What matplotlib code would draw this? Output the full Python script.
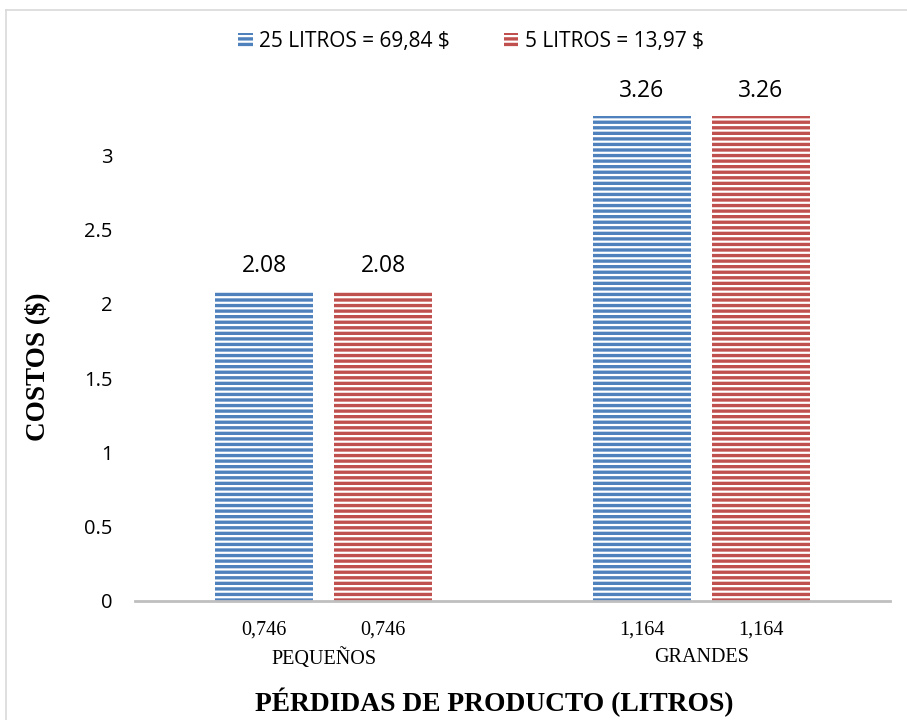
import matplotlib
matplotlib.use("Agg")
import matplotlib.pyplot as plt
from matplotlib.lines import Line2D
import numpy as np

# Data
categories = ["PEQUEÑOS", "GRANDES"]
loss_labels = [["0,746", "0,746"], ["1,164", "1,164"]]
series_names = ["25 LITROS = 69,84 $", "5 LITROS = 13,97 $"]
costs_25l = [2.08, 3.26]
costs_5l = [2.08, 3.26]
y_ticks = [0, 0.5, 1, 1.5, 2, 2.5, 3]
y_tick_labels = ["0", "0.5", "1", "1.5", "2", "2.5", "3"]

colors = ["#4F81BD", "#C0504D"]

plt.rcParams["hatch.linewidth"] = 1.6

fig = plt.figure(figsize=(9.07, 7.2), dpi=100)
ax = fig.add_axes([0.1488, 0.1653, 0.8325, 0.7226])

x = np.arange(len(categories))
width = 0.26
offset = 0.158

bars = []
for i, (vals, col, name) in enumerate(zip([costs_25l, costs_5l], colors, series_names)):
    pos = x + (-offset if i == 0 else offset)
    b = ax.bar(pos, vals, width, color=col, edgecolor="white", linewidth=0,
               hatch="---", label=name)
    bars.append(b)
    for xp, v in zip(pos, vals):
        ax.annotate(f"{v:.2f}", (xp, v), xytext=(0, 14), textcoords="offset points",
                    ha="center", va="baseline", fontsize=16.5, family="Open Sans")

ax.set_xlim(-0.5, 1.5)
ax.set_ylim(0, 3.5)
ax.set_yticks(y_ticks)
ax.set_yticklabels(y_tick_labels, family="Open Sans", fontsize=14.5)
ax.tick_params(axis="y", length=0, pad=16)

# bar-level ticks with loss values, category names beneath
bar_pos = np.concatenate([[xi - offset, xi + offset] for xi in x])
ax.set_xticks(bar_pos)
ax.set_xticklabels([lab for pair in loss_labels for lab in pair],
                   family="Liberation Serif", fontsize=14.5)
ax.set_xticks(x, minor=True)
ax.set_xticklabels(categories, minor=True, family="Liberation Serif", fontsize=14.5)
ax.tick_params(axis="x", which="major", length=0, pad=14)
ax.tick_params(axis="x", which="minor", length=0, pad=34)

for s in ["top", "right", "left"]:
    ax.spines[s].set_visible(False)
ax.spines["bottom"].set_color("#BFBFBF")
ax.spines["bottom"].set_linewidth(2.0)

ax.set_ylabel("COSTOS ($)", family="Liberation Serif", fontweight="bold", fontsize=19.5)
ax.yaxis.set_label_coords(-0.113, 0.45)
fig.text(0.545, 0.024, "PÉRDIDAS DE PRODUCTO (LITROS)", family="Liberation Serif",
         fontweight="bold", fontsize=19.8, ha="center", va="center")

leg = fig.legend(handles=bars, labels=series_names, loc="center",
                 bbox_to_anchor=(0.519, 0.942), ncol=2, frameon=False,
                 prop={"family": "Open Sans", "size": 15},
                 handlelength=0.7, handleheight=0.7, handletextpad=0.3,
                 columnspacing=2.6)

# outer chart frame (left and top edges)
fig.add_artist(Line2D([6 / 907, 6 / 907], [0, 1 - 10 / 720], transform=fig.transFigure,
                      color="#D9D9D9", linewidth=1.2))
fig.add_artist(Line2D([6 / 907, 1], [1 - 10 / 720, 1 - 10 / 720], transform=fig.transFigure,
                      color="#D9D9D9", linewidth=1.2))

fig.savefig("out.png", dpi=100)
